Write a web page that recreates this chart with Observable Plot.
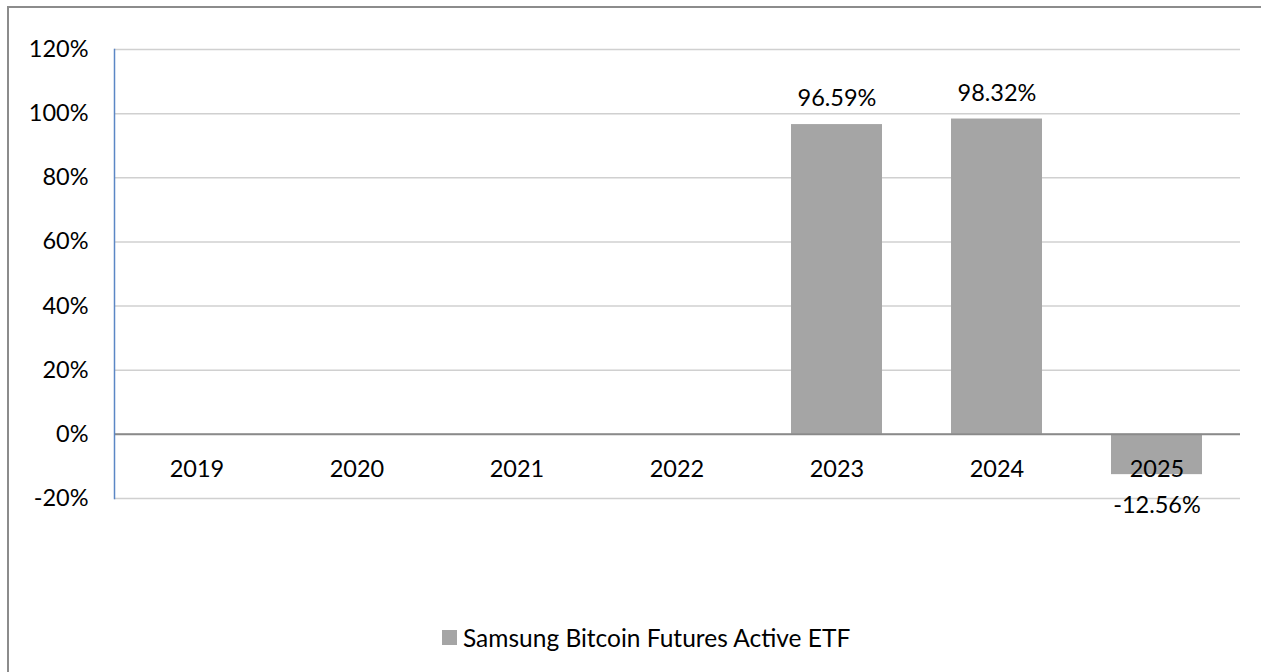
<!DOCTYPE html>
<html>
<head>
<meta charset="utf-8">
<script src="https://cdn.jsdelivr.net/npm/d3@7"></script>
<script src="https://cdn.jsdelivr.net/npm/@observablehq/plot@0.6"></script>
<style>
  html, body { margin: 0; padding: 0; background: #fff; }
  #wrap { position: relative; width: 1261px; height: 672px; overflow: hidden; font-family: Lato, "Open Sans", sans-serif; }
  #frame { position: absolute; left: 7px; top: 6px; width: 1300px; height: 700px; border-top: 2px solid #8c8c8c; border-left: 2px solid #8c8c8c; box-sizing: border-box; }
  #chart { position: absolute; left: 0; top: 0; }
  #legend { position: absolute; left: 442px; top: 623px; display: flex; align-items: center; font-size: 24.5px; color: #000; }
  #legend .sw { width: 15px; height: 15px; background: #a5a5a5; margin-right: 6px; }
</style>
</head>
<body>
<div id="wrap">
  <div id="frame"></div>
  <div id="chart"></div>
  <div id="legend"><span class="sw"></span><span id="legtext"></span></div>
</div>
<script>
const years = ["2019", "2020", "2021", "2022", "2023", "2024", "2025"];
const values = [null, null, null, null, 96.59, 98.32, -12.56];
const yTicks = [-20, 0, 20, 40, 60, 80, 100, 120];
const seriesName = "Samsung Bitcoin Futures Active ETF";

const data = years.map((year, i) => ({year, value: values[i]}));
const present = data.filter(d => d.value != null);
const fmt = d => d + "%";
const FS = 23.5;

document.getElementById("legtext").textContent = seriesName;

const chart = Plot.plot({
  width: 1261,
  height: 560,
  marginLeft: 114,
  marginRight: 21,
  marginTop: 49,
  marginBottom: 62,
  style: { fontFamily: "Lato, 'Open Sans', sans-serif", fontSize: FS + "px", color: "#000", background: "transparent" },
  x: { domain: years, paddingInner: 0.43, paddingOuter: 0.215, axis: null },
  y: { domain: [-20, 120], axis: null, label: null },
  marks: [
    Plot.gridY(yTicks, { stroke: "#d0d0d0", strokeOpacity: 1, strokeWidth: 1.5 }),
    Plot.axisY(yTicks, { tickSize: 0, tickPadding: 26, tickFormat: fmt, fontSize: FS, fill: "#000", label: null }),
    Plot.barY(present, { x: "year", y: "value", fill: "#a5a5a5" }),
    Plot.ruleY([0], { stroke: "#8a8a8a", strokeWidth: 2 }),
    Plot.frame({ anchor: "left", stroke: "#5b87c5", strokeWidth: 1.5 }),
    Plot.text(data, { x: "year", y: () => 0, dy: 35, text: "year", fontSize: FS, fill: "#000" }),
    Plot.text(present.filter(d => d.value >= 0), {
      x: "year", y: "value", text: d => d.value.toFixed(2) + "%",
      dy: -26, fontSize: FS, fill: "#000"
    }),
    Plot.text(present.filter(d => d.value < 0), {
      x: "year", y: "value", text: d => d.value.toFixed(2) + "%",
      dy: 31, fontSize: FS, fill: "#000"
    }),
  ]
});
document.getElementById("chart").appendChild(chart);
</script>
</body>
</html>
